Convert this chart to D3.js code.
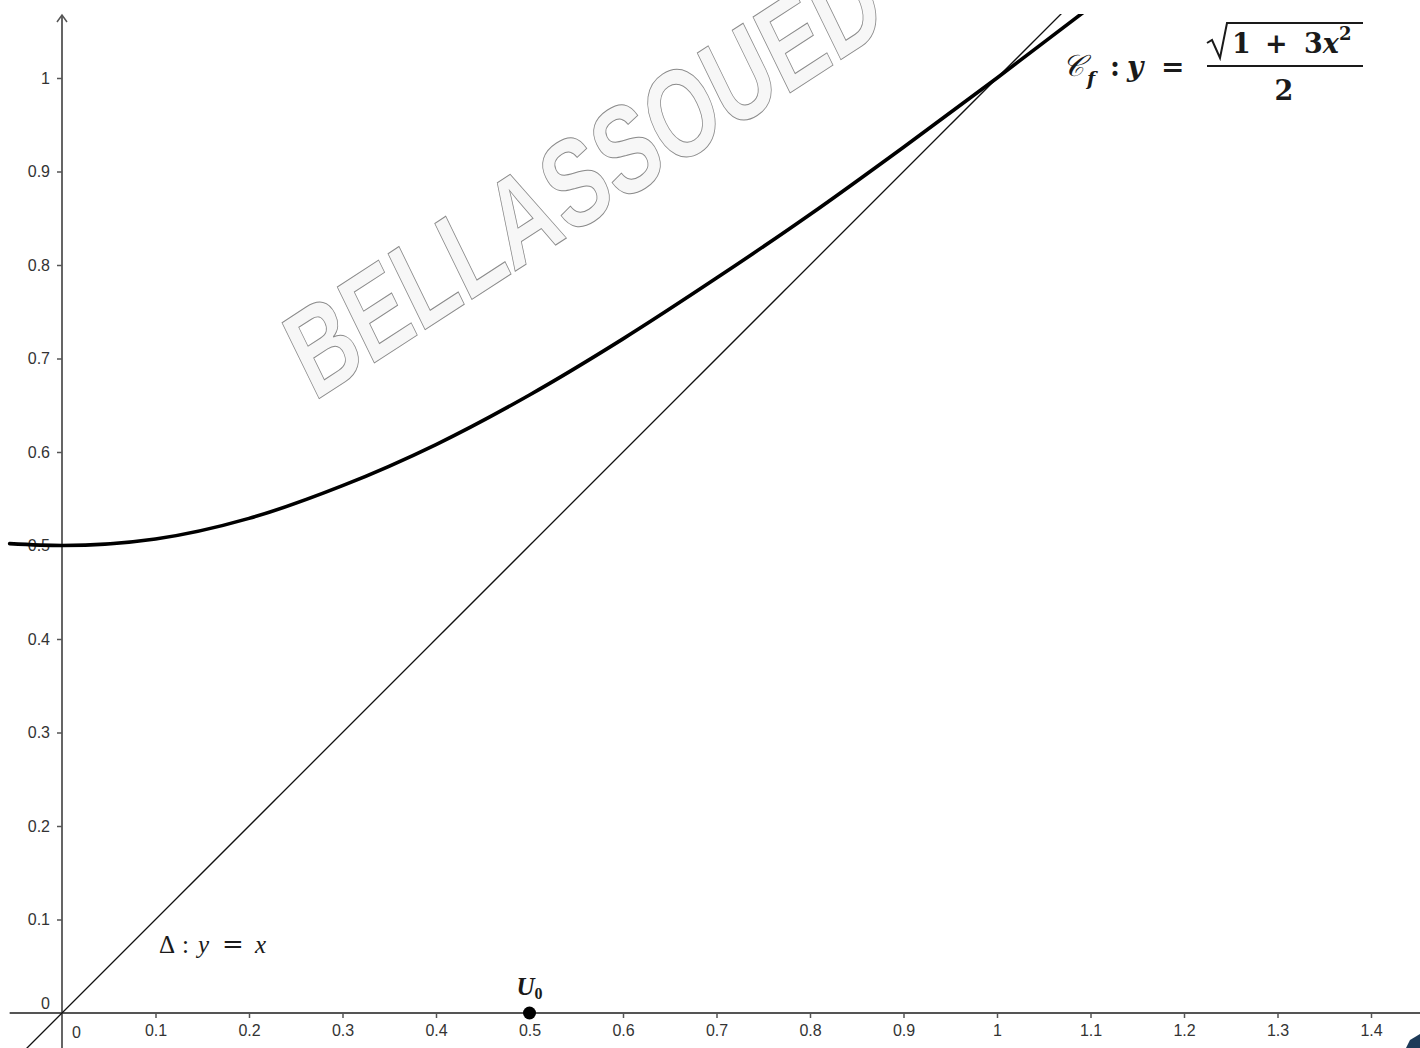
<!DOCTYPE html>
<html>
<head>
<meta charset="utf-8">
<script src="https://d3js.org/d3.v7.min.js"></script>
<style>
    html, body { margin: 0; padding: 0; background: #fff; }
    svg { display: block; font-family: "Liberation Sans", Arial, sans-serif; }
    .tick text { font-size: 16px; fill: #333; }
    .tick line { stroke: #555; stroke-width: 1.5; }
    .math { font-family: "Liberation Serif", "DejaVu Serif", serif; fill: #1a1a1a; }
    .dj { font-family: "DejaVu Serif", serif; }
</style>
</head>
<body>
<div id="chart"></div>
<script>
// values
var xTicks = [0.1, 0.2, 0.3, 0.4, 0.5, 0.6, 0.7, 0.8, 0.9, 1, 1.1, 1.2, 1.3, 1.4];
var yTicks = [0.1, 0.2, 0.3, 0.4, 0.5, 0.6, 0.7, 0.8, 0.9, 1];
var curveX = [-0.056, 0, 0.1, 0.2, 0.3, 0.4, 0.5, 0.6, 0.7, 0.8, 0.9, 1.0, 1.1, 1.12];
var curveY = [0.502, 0.5, 0.507, 0.529, 0.564, 0.608, 0.661, 0.721, 0.786, 0.854, 0.926, 1.0, 1.076, 1.091];
var deltaX = [-0.05, 1.1];
var deltaY = [-0.05, 1.1];
var u0 = [0.5];
var watermark = "BELLASSOUED";

var width = 1420, height = 1048;

var xScale = d3.scaleLinear().domain([0, 1]).range([62, 997]);
var yScale = d3.scaleLinear().domain([0, 1]).range([1013, 78]);

var svg = d3.select("#chart").append("svg")
    .attr("width", width)
    .attr("height", height);

svg.append("defs").append("clipPath")
    .attr("id", "plot")
    .append("rect")
    .attr("x", 0).attr("y", 14)
    .attr("width", width).attr("height", height - 14);

// watermark
svg.append("g")
    .attr("transform", "translate(314,402) rotate(-33) skewX(-7)")
    .append("text")
    .attr("x", 0).attr("y", 0)
    .attr("font-size", 122)
    .attr("font-weight", "bold")
    .attr("textLength", 688)
    .attr("lengthAdjust", "spacingAndGlyphs")
    .attr("fill", "#f7f7f7")
    .attr("stroke", "#8a8a8a")
    .attr("stroke-width", 1)
    .text(watermark);

// axes lines
svg.append("line")
    .attr("x1", xScale(-0.056)).attr("x2", width)
    .attr("y1", yScale(0)).attr("y2", yScale(0))
    .attr("stroke", "#555").attr("stroke-width", 1.8);

svg.append("line")
    .attr("x1", xScale(0)).attr("x2", xScale(0))
    .attr("y1", height).attr("y2", 15)
    .attr("stroke", "#555").attr("stroke-width", 1.8);

svg.append("path")
    .attr("transform", "translate(" + xScale(0) + ",15)")
    .attr("d", "M-5,7L0,0L5,7")
    .attr("fill", "none")
    .attr("stroke", "#555").attr("stroke-width", 1.5);

var xAxis = svg.append("g")
    .attr("transform", "translate(0," + yScale(0) + ")")
    .call(d3.axisBottom(xScale).tickValues(xTicks).tickSize(5).tickPadding(7).tickFormat(d3.format("")));
xAxis.select(".domain").remove();
xAxis.attr("font-family", null).attr("font-size", null);

var yAxis = svg.append("g")
    .attr("transform", "translate(" + xScale(0) + ",0)")
    .call(d3.axisLeft(yScale).tickValues(yTicks).tickSize(5).tickPadding(7).tickFormat(d3.format("")));
yAxis.select(".domain").remove();
yAxis.attr("font-family", null).attr("font-size", null);

// origin labels
svg.append("text")
    .attr("x", xScale(0) - 12).attr("y", yScale(0) - 4)
    .attr("text-anchor", "end")
    .attr("font-size", 16).attr("fill", "#333")
    .text("0");
svg.append("text")
    .attr("x", xScale(0) + 10).attr("y", yScale(0) + 25)
    .attr("font-size", 16).attr("fill", "#333")
    .text("0");

var plot = svg.append("g").attr("clip-path", "url(#plot)");

// delta : y = x
plot.append("path")
    .datum(d3.zip(deltaX, deltaY))
    .attr("fill", "none")
    .attr("stroke", "#111")
    .attr("stroke-width", 1.3)
    .attr("d", d3.line().x(function(d) { return xScale(d[0]); }).y(function(d) { return yScale(d[1]); }));

// curve Cf
plot.append("path")
    .datum(d3.zip(curveX, curveY))
    .attr("fill", "none")
    .attr("stroke", "#000")
    .attr("stroke-width", 3.6)
    .attr("stroke-linecap", "round")
    .attr("d", d3.line().curve(d3.curveMonotoneX)
        .x(function(d) { return xScale(d[0]); }).y(function(d) { return yScale(d[1]); }));

// U0 point
svg.selectAll(".u0")
    .data(u0)
    .enter().append("circle")
    .attr("class", "u0")
    .attr("cx", function(d) { return xScale(d); })
    .attr("cy", yScale(0))
    .attr("r", 6.5)
    .attr("fill", "#000");

var u0Label = svg.append("text")
    .attr("class", "math")
    .attr("x", xScale(u0[0]) - 13).attr("y", yScale(0) - 18)
    .attr("font-size", 25).attr("font-weight", "bold");
u0Label.append("tspan").attr("font-style", "italic").text("U");
u0Label.append("tspan").attr("font-size", 16).attr("dy", 4).text("0");

// delta label
var dLabel = svg.append("text")
    .attr("class", "math")
    .attr("x", 159).attr("y", 953)
    .attr("font-size", 25);
dLabel.append("tspan").text("Δ");
dLabel.append("tspan").attr("x", 182).text(":");
dLabel.append("tspan").attr("x", 198).attr("font-style", "italic").text("y");
dLabel.append("tspan").attr("class", "dj").attr("x", 222).attr("font-size", 26).text("=");
dLabel.append("tspan").attr("x", 255).attr("font-style", "italic").text("x");

// curve label
var cLabel = svg.append("text")
    .attr("class", "math")
    .attr("x", 1062).attr("y", 76)
    .attr("font-size", 30).attr("font-weight", "bold");
cLabel.append("tspan").attr("font-style", "italic").attr("font-weight", "normal").text("𝒞");
cLabel.append("tspan").attr("class", "dj").attr("x", 1087).attr("font-size", 19).attr("font-style", "italic").attr("dy", 9).text("f");
cLabel.append("tspan").attr("class", "dj").attr("x", 1110).attr("dy", -9).attr("font-size", 27).text(":");
cLabel.append("tspan").attr("class", "dj").attr("x", 1127).attr("font-size", 28).attr("font-style", "italic").text("y");
cLabel.append("tspan").attr("class", "dj").attr("x", 1161).attr("font-size", 28).text("=");

svg.append("line")
    .attr("x1", 1207).attr("x2", 1363)
    .attr("y1", 66).attr("y2", 66)
    .attr("stroke", "#1a1a1a").attr("stroke-width", 1.8);

svg.append("path")
    .attr("d", "M1207,43L1212,40L1220,58L1227,23L1363,23")
    .attr("fill", "none")
    .attr("stroke", "#1a1a1a").attr("stroke-width", 2);

var num = svg.append("text")
    .attr("class", "math dj")
    .attr("x", 1232).attr("y", 53)
    .attr("font-size", 27).attr("font-weight", "bold");
num.append("tspan").text("1");
num.append("tspan").attr("x", 1265).text("+");
num.append("tspan").attr("x", 1304).text("3");
num.append("tspan").attr("font-style", "italic").text("x");
num.append("tspan").attr("font-size", 18).attr("dy", -13).text("2");

svg.append("text")
    .attr("class", "math dj")
    .attr("x", 1284).attr("y", 100)
    .attr("text-anchor", "middle")
    .attr("font-size", 27).attr("font-weight", "bold")
    .text("2");

// corner of logo, cut off at the edge
svg.append("path")
    .attr("d", "M1406,1048L1410,1040L1420,1034L1420,1048Z")
    .attr("fill", "#1d3a58");
</script>
</body>
</html>
